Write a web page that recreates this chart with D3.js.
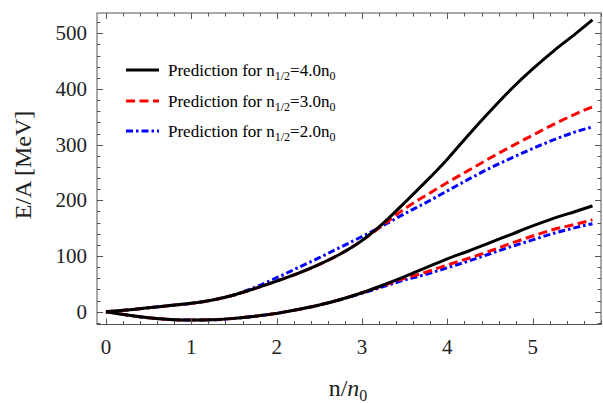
<!DOCTYPE html>
<html>
<head>
<meta charset="utf-8">
<script src="https://cdn.jsdelivr.net/npm/d3@7"></script>
<style>
  html, body { margin: 0; padding: 0; background: #fff; }
  svg { display: block; }
  text { font-family: "Liberation Serif", "Times New Roman", serif; }
</style>
</head>
<body>
<svg id="chart" width="603" height="403"></svg>
<script>
// Density grid n/n0 shared by all curves
const density = [0, 0.25, 0.5, 0.75, 1, 1.25, 1.5, 1.75, 2, 2.25, 2.5, 2.75, 3, 3.25, 3.5, 3.75, 4, 4.25, 4.5, 4.75, 5, 5.25, 5.5, 5.7];

// Upper branch (neutron matter), E/A in MeV
const upperHalf40 = [0, 3, 7, 11, 15, 21, 30, 42, 55, 69, 85, 104, 128, 159, 196, 234, 274, 318, 360, 400, 436, 469, 499, 524];
const upperHalf30 = [0, 3, 7, 11, 15, 21, 30, 42, 55, 69, 85, 104, 128, 156, 185, 209, 232, 254, 276, 297, 317, 337, 355, 368];
const upperHalf20 = [0, 3, 7, 11, 15, 21, 30, 44, 61, 79, 97, 116, 135, 155, 176, 196, 217, 238, 258, 276, 293, 309, 323, 332];

// Lower branch (symmetric matter), E/A in MeV
const lowerHalf40 = [0, -6, -11, -14, -15, -14.5, -12, -8, -3, 4, 12, 22, 34, 48, 63, 79, 95, 109, 124, 139, 154, 168, 180, 190];
const lowerHalf30 = [0, -6, -11, -14, -15, -14.5, -12, -8, -3, 4, 12, 22, 34, 47, 60, 71, 84, 96, 109, 123, 136, 148, 157, 165];
const lowerHalf20 = [0, -6, -11, -14, -15, -14.5, -12, -8, -3, 4, 12, 22, 33, 45, 57, 67, 79, 91, 104, 117, 129, 141, 151, 158];

const xTickValues = [0, 1, 2, 3, 4, 5];
const yTickValues = [0, 100, 200, 300, 400, 500];

const legendLabels = ["4.0", "3.0", "2.0"];
const seriesColors = ["#000000", "#ff0000", "#0000ff"];
const seriesDash = [null, "9,4.5", "7,3,2.5,3"];

const svg = d3.select("#chart");
const frameLeft = 97, frameRight = 601, frameTop = 13, frameBottom = 324.5;

const x = d3.scaleLinear().domain([-0.105, 5.8]).range([frameLeft, frameRight]);
const y = d3.scaleLinear().domain([-23, 536.5]).range([frameBottom, frameTop]);

const frameColor = "#555";
const labelColor = "#222";

// Curves: blue, red, then black on top
const line = d3.line()
  .x((d, i) => x(density[i]))
  .y(d => y(d))
  .curve(d3.curveMonotoneX);

const plot = svg.append("g");
plot.append("clipPath").attr("id", "clip")
  .append("rect").attr("x", frameLeft).attr("y", frameTop)
  .attr("width", frameRight - frameLeft).attr("height", frameBottom - frameTop);

const curves = [
  { data: upperHalf20, s: 2 }, { data: lowerHalf20, s: 2 },
  { data: upperHalf30, s: 1 }, { data: lowerHalf30, s: 1 },
  { data: upperHalf40, s: 0 }, { data: lowerHalf40, s: 0 }
];
curves.forEach(c => {
  plot.append("path")
    .attr("clip-path", "url(#clip)")
    .attr("d", line(c.data))
    .attr("fill", "none")
    .attr("stroke", seriesColors[c.s])
    .attr("stroke-width", 3)
    .attr("stroke-dasharray", seriesDash[c.s]);
});

// Frame with inward ticks on all four sides
const majorLen = 6, minorLen = 3.5;
const xMinor = d3.range(0, 5.81, 0.2).map(v => +v.toFixed(2)).filter(v => !xTickValues.includes(v));
const yMinor = d3.range(-20, 536, 20).filter(v => v % 100 !== 0);

const axisG = svg.append("g").attr("stroke", frameColor).attr("stroke-width", 1);
axisG.append("rect")
  .attr("x", frameLeft).attr("y", frameTop)
  .attr("width", frameRight - frameLeft).attr("height", frameBottom - frameTop)
  .attr("fill", "none");

function xTick(v, len) {
  const px = Math.round(x(v)) + 0.5;
  axisG.append("line").attr("x1", px).attr("x2", px).attr("y1", frameBottom).attr("y2", frameBottom - len);
  axisG.append("line").attr("x1", px).attr("x2", px).attr("y1", frameTop).attr("y2", frameTop + len);
}
function yTick(v, len) {
  const py = Math.round(y(v)) + 0.5;
  axisG.append("line").attr("x1", frameLeft).attr("x2", frameLeft + len).attr("y1", py).attr("y2", py);
  axisG.append("line").attr("x1", frameRight).attr("x2", frameRight - len).attr("y1", py).attr("y2", py);
}
xTickValues.forEach(v => xTick(v, majorLen));
xMinor.forEach(v => xTick(v, minorLen));
yTickValues.forEach(v => yTick(v, majorLen));
yMinor.forEach(v => yTick(v, minorLen));

// Tick labels
svg.append("g").selectAll("text").data(xTickValues).join("text")
  .attr("x", d => x(d))
  .attr("y", 354)
  .attr("text-anchor", "middle")
  .attr("font-size", 21)
  .attr("fill", labelColor)
  .text(d => d);

svg.append("g").selectAll("text").data(yTickValues).join("text")
  .attr("x", 87)
  .attr("y", d => y(d) + 7)
  .attr("text-anchor", "end")
  .attr("font-size", 21)
  .attr("fill", labelColor)
  .text(d => d);

// Axis titles
svg.append("text")
  .attr("transform", "translate(31,165) rotate(-90)")
  .attr("text-anchor", "middle")
  .attr("font-size", 24)
  .attr("fill", labelColor)
  .text("E/A [MeV]");

const xt = svg.append("text")
  .attr("x", 348).attr("y", 396)
  .attr("text-anchor", "middle")
  .attr("font-size", 24)
  .attr("fill", labelColor);
xt.append("tspan").text("n/");
xt.append("tspan").attr("font-style", "italic").text("n");
xt.append("tspan").attr("font-size", 16).attr("dy", 5).text("0");

// Legend
const legendY = [70, 101, 131];
legendLabels.forEach((lab, i) => {
  svg.append("line")
    .attr("x1", 126).attr("x2", 159)
    .attr("y1", legendY[i]).attr("y2", legendY[i])
    .attr("stroke", seriesColors[i])
    .attr("stroke-width", 3)
    .attr("stroke-dasharray", seriesDash[i]);
  const t = svg.append("text")
    .attr("x", 168).attr("y", legendY[i] + 5.5)
    .attr("font-size", 17)
    .attr("fill", "#000");
  t.append("tspan").text("Prediction for n");
  t.append("tspan").attr("font-size", 12).attr("dy", 4).text("1/2");
  t.append("tspan").attr("dy", -4).text("=" + lab + "n");
  t.append("tspan").attr("font-size", 12).attr("dy", 4).text("0");
});
</script>
</body>
</html>
